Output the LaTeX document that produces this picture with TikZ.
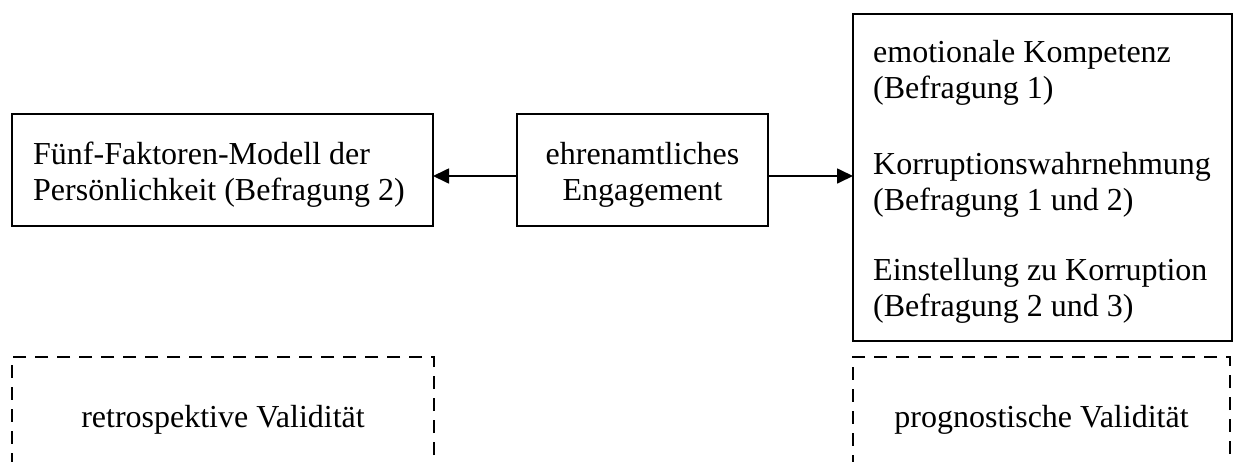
\documentclass[tikz,border=0pt]{standalone}
\usepackage{fontspec}
\setmainfont{Liberation Serif}
\usetikzlibrary{arrows.meta}
\begin{document}
\begin{tikzpicture}[x=1pt,y=-1pt,
  box/.style={draw, line width=2.6pt, rectangle, inner sep=0pt, outer sep=0pt, anchor=north west},
  dbox/.style={draw, line width=2.6pt, dash pattern=on 13pt off 9pt, rectangle, inner sep=0pt, outer sep=0pt, anchor=north west},
  txt/.style={inner sep=0pt, font=\fontsize{32}{36.8}\selectfont},
  arr/.style={line width=1.7pt, -{Triangle[length=16pt,width=15pt]}}]
\clip (0,0) rectangle (1233,461);
% boxes
\node[box, minimum width=421pt, minimum height=112pt] (ffm) at (12,114) {};
\node[box, minimum width=251pt, minimum height=112pt] (eng) at (517,114) {};
\node[box, minimum width=379pt, minimum height=327pt] (out) at (853,14) {};
\node[dbox, minimum width=422pt, minimum height=160pt] (retro) at (12,357) {};
\node[dbox, minimum width=377pt, minimum height=160pt] (prog) at (853,357) {};
% texts
\node[txt, anchor=base west] (t1) at (33,164) {Fünf-Faktoren-Modell der};
\node[txt, anchor=base west] (t2) at (33,200) {Persönlichkeit (Befragung 2)};
\node[txt, anchor=base] (t3) at (642.5,164) {ehrenamtliches};
\node[txt, anchor=base] (t4) at (642.5,200) {Engagement};
\node[txt, anchor=base west] (r1) at (873,62) {emotionale Kompetenz};
\node[txt, anchor=base west] (r2) at (873,98.5) {(Befragung 1)};
\node[txt, anchor=base west] (r3) at (873,174) {Korruptionswahrnehmung};
\node[txt, anchor=base west] (r4) at (873,210.5) {(Befragung 1 und 2)};
\node[txt, anchor=base west] (r5) at (873,280) {Einstellung zu Korruption};
\node[txt, anchor=base west] (r6) at (873,316.5) {(Befragung 2 und 3)};
\node[txt, anchor=base] (v1) at (223,427) {retrospektive Validität};
\node[txt, anchor=base] (v2) at (1041.5,427) {prognostische Validität};
% arrows
\draw[arr] ([yshift=-6pt]eng.west) -- ([yshift=-6pt]eng.west -| ffm.east);
\draw[arr] ([yshift=-6pt]eng.east) -- ([yshift=-6pt]eng.east -| out.west);
\end{tikzpicture}
\end{document}
